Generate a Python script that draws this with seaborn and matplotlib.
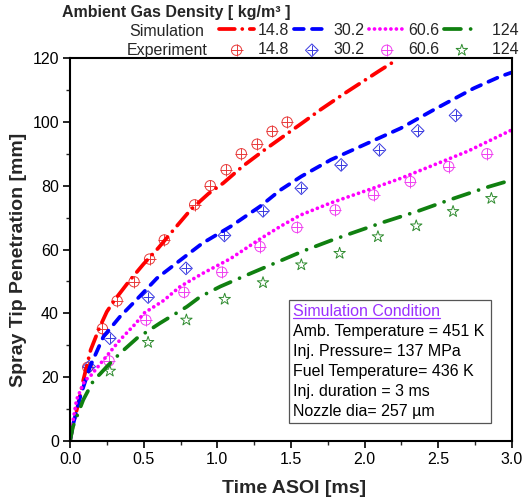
import numpy as np
import pandas as pd
import matplotlib
matplotlib.use('Agg')
import matplotlib.pyplot as plt
from matplotlib.patches import Rectangle
from matplotlib.lines import Line2D
import seaborn as sns

# simulation curves (time ASOI [ms], penetration [mm]) per ambient density
sim_t_148 = [0, 0.02, 0.05, 0.09, 0.14, 0.20, 0.25, 0.30, 0.40, 0.50, 0.60, 0.70, 0.82, 0.94, 1.04,
             1.17, 1.32, 1.45, 1.59, 1.70, 1.85, 2.00, 2.10, 2.22]
sim_y_148 = [0, 5, 10.5, 19, 28.5, 35.5, 40.5, 44, 50, 55.5, 60.5, 66, 72.5, 77.5, 80.8,
             86, 91.2, 95.5, 100.1, 103.8, 108.5, 113, 116, 119.5]
sim_t_302 = [0, 0.02, 0.07, 0.136, 0.227, 0.34, 0.45, 0.59, 0.75, 0.90, 1.09, 1.29, 1.43, 1.57,
             1.77, 2.02, 2.245, 2.47, 2.74, 2.92, 3.0]
sim_y_302 = [0, 5, 14, 23.3, 32.7, 39, 44.2, 51, 56.7, 62, 67.2, 73.5, 78.7, 82.9,
             88.1, 93.3, 98, 103.8, 110.5, 114.2, 115.5]
sim_t_606 = [0, 0.01, 0.045, 0.10, 0.136, 0.227, 0.34, 0.45, 0.50, 0.635, 0.748, 0.90, 1.088, 1.29,
             1.43, 1.565, 1.77, 2.02, 2.245, 2.47, 2.70, 3.0]
sim_y_606 = [0, 3.5, 13, 19, 20.2, 25.4, 31.7, 37, 40, 44, 48.4, 52.5, 57.1, 63.3,
             67.3, 70.8, 74.6, 78.6, 82.3, 86.5, 90.8, 97.5]
sim_t_124 = [0, 0.02, 0.09, 0.16, 0.204, 0.25, 0.34, 0.454, 0.61, 0.794, 0.884, 1.02, 1.20, 1.43,
             1.587, 1.77, 1.905, 2.13, 2.36, 2.585, 2.83, 3.0]
sim_y_124 = [0, 4.5, 12.9, 19, 21, 23.3, 27.5, 32.2, 36.9, 42.1, 45.2, 48.4, 52, 56.5,
             59.6, 62.8, 65, 68.6, 72, 75.7, 79.5, 81.8]

# experimental points
exp_t_148 = [0.12, 0.22, 0.32, 0.435, 0.54, 0.64, 0.846, 0.952, 1.06, 1.163, 1.27, 1.372, 1.474]
exp_y_148 = [23.1, 35.2, 43.9, 49.9, 57, 63, 74, 80, 85, 90, 93, 97, 99.9]
exp_t_302 = [0.13, 0.27, 0.53, 0.787, 1.048, 1.31, 1.57, 1.84, 2.10, 2.36, 2.617]
exp_y_302 = [23.3, 32.2, 45.1, 54.1, 64.4, 72.1, 79.2, 86.5, 91.2, 97.2, 102]
exp_t_606 = [0.265, 0.515, 0.773, 1.03, 1.29, 1.54, 1.80, 2.06, 2.31, 2.57, 2.83]
exp_y_606 = [25.1, 37.9, 46.6, 52.9, 60.9, 66.9, 72.4, 77.1, 81.3, 86, 90]
exp_t_124 = [0.27, 0.53, 0.79, 1.05, 1.31, 1.57, 1.83, 2.09, 2.35, 2.60, 2.86]
exp_y_124 = [21.9, 30.9, 37.9, 44.4, 49.6, 55.2, 58.8, 64, 67.4, 71.9, 76]

labels = ['14.8', '30.2', '60.6', '  124']
sim_colors = ['#ff0000', '#0000ff', '#ff00ff', '#108010']
exp_colors = ['#e83a3a', '#3a3ae0', '#f040f0', '#2e8b2e']
sim_dashes = [(4.2, 2.0, 0.01, 2.0), (2.6, 2.2), (0.01, 1.45), (4.5, 2.6, 0.01, 2.6)]

conditions = ['Amb. Temperature = 451 K', 'Inj. Pressure= 137 MPa',
              'Fuel Temperature= 436 K', 'Inj. duration = 3 ms',
              'Nozzle dia= 257 \u00b5m']

sns.set_style('ticks')
plt.rcParams['font.family'] = ['Liberation Sans', 'DejaVu Sans']

fig = plt.figure(figsize=(5.25, 5.04), dpi=100)
ax = fig.add_axes([70 / 525, 1 - 441 / 504, 442 / 525, 383 / 504])

sims = [(sim_t_148, sim_y_148), (sim_t_302, sim_y_302), (sim_t_606, sim_y_606), (sim_t_124, sim_y_124)]
exps = [(exp_t_148, exp_y_148), (exp_t_302, exp_y_302), (exp_t_606, exp_y_606), (exp_t_124, exp_y_124)]

sim_handles = []
exp_handles = []
for i in range(4):
    # simulation line
    st, sy = sims[i]
    sns.lineplot(x=st, y=sy, ax=ax, color=sim_colors[i], lw=2.7, sort=False)
    line = ax.lines[-1]
    line.set_dashes(sim_dashes[i])
    line.set_dash_capstyle('round')
    sim_handles.append(line)

    # experiment markers (open symbol with a cross inside)
    et, ey = exps[i]
    if i < 3:
        base = 'o' if i != 1 else 'D'
        size = 55 if base == 'o' else 42
        sns.scatterplot(x=et, y=ey, ax=ax, marker=base, s=size, linewidth=0.7)
        c1 = ax.collections[-1]
        c1.set_facecolor('none')
        c1.set_edgecolor(exp_colors[i])
        sns.scatterplot(x=et, y=ey, ax=ax, marker='+', s=size * 1.3, linewidth=0.7)
        c2 = ax.collections[-1]
        c2.set_edgecolor(exp_colors[i])
        c2.set_facecolor(exp_colors[i])
        exp_handles.append((c1, c2))
    else:
        sns.scatterplot(x=et, y=ey, ax=ax, marker='*', s=75, linewidth=0.7)
        c1 = ax.collections[-1]
        c1.set_facecolor('none')
        c1.set_edgecolor(exp_colors[i])
        exp_handles.append(c1)

ax.set_xlim(0, 3.0)
ax.set_ylim(0, 120)
ax.set_xticks(np.arange(0, 3.01, 0.5))
ax.set_xticks(np.arange(0, 3.01, 0.25), minor=True)
ax.set_yticks(np.arange(0, 121, 20))
ax.set_yticks(np.arange(0, 121, 10), minor=True)
ax.xaxis.set_major_formatter(matplotlib.ticker.FormatStrFormatter('%.1f'))
ax.tick_params(which='major', direction='out', length=5, width=1.2, labelsize=11.5, colors='black', pad=3)
ax.tick_params(which='minor', direction='out', length=3, width=1.0)
for s in ax.spines.values():
    s.set_linewidth(1.5)
    s.set_color('black')

ax.set_xlabel('Time ASOI [ms]', fontsize=14, fontweight='bold')
ax.set_ylabel('Spray Tip Penetration [mm]', fontsize=14, fontweight='bold')
ax.xaxis.set_label_coords(0.508, -0.102)
ax.yaxis.set_label_coords(-0.097, 0.472)

# legend block above the axes
fig.text(62 / 525, 1 - 12 / 504, 'Ambient Gas Density [ kg/m\u00b3 ]', fontsize=11.5,
         fontweight='bold', ha='left', va='center')
fig.text(129 / 525, 1 - 32 / 504, 'Simulation', fontsize=11.5, ha='left', va='center')
fig.text(127 / 525, 1 - 50 / 504, 'Experiment', fontsize=11.5, ha='left', va='center')

handles = []
labs = []
for i in range(4):
    handles += [sim_handles[i], exp_handles[i]]
    labs += [labels[i], labels[i]]
leg = fig.legend(handles, labs, ncol=4, loc='upper left', bbox_to_anchor=(219 / 525, 1 - 23 / 504),
                 frameon=False, fontsize=11.5, handlelength=2.2, handletextpad=0.25,
                 columnspacing=0.3, labelspacing=0.28, borderpad=0, borderaxespad=0)

# simulation condition box
ax.add_patch(Rectangle((0.4955, 0.047), 0.457, 0.321, transform=ax.transAxes,
                       fill=False, edgecolor='#555555', linewidth=0.9))
ys = [0.3376, 0.2854, 0.2332, 0.181, 0.1287, 0.0765]
title = ax.text(0.5045, ys[0], 'Simulation Condition', transform=ax.transAxes,
                fontsize=11.5, color='#9b30ff', ha='left', va='center')
for y, t in zip(ys[1:], conditions):
    ax.text(0.5045, y, t, transform=ax.transAxes, fontsize=11.5, color='black', ha='left', va='center')

# underline the box title
fig.canvas.draw()
bb = title.get_window_extent(fig.canvas.get_renderer()).transformed(ax.transAxes.inverted())
ax.add_line(Line2D([bb.x0, bb.x1], [bb.y0 + 0.004, bb.y0 + 0.004], transform=ax.transAxes,
                   color='#9b30ff', lw=0.9))

fig.savefig('out.png', dpi=100)
